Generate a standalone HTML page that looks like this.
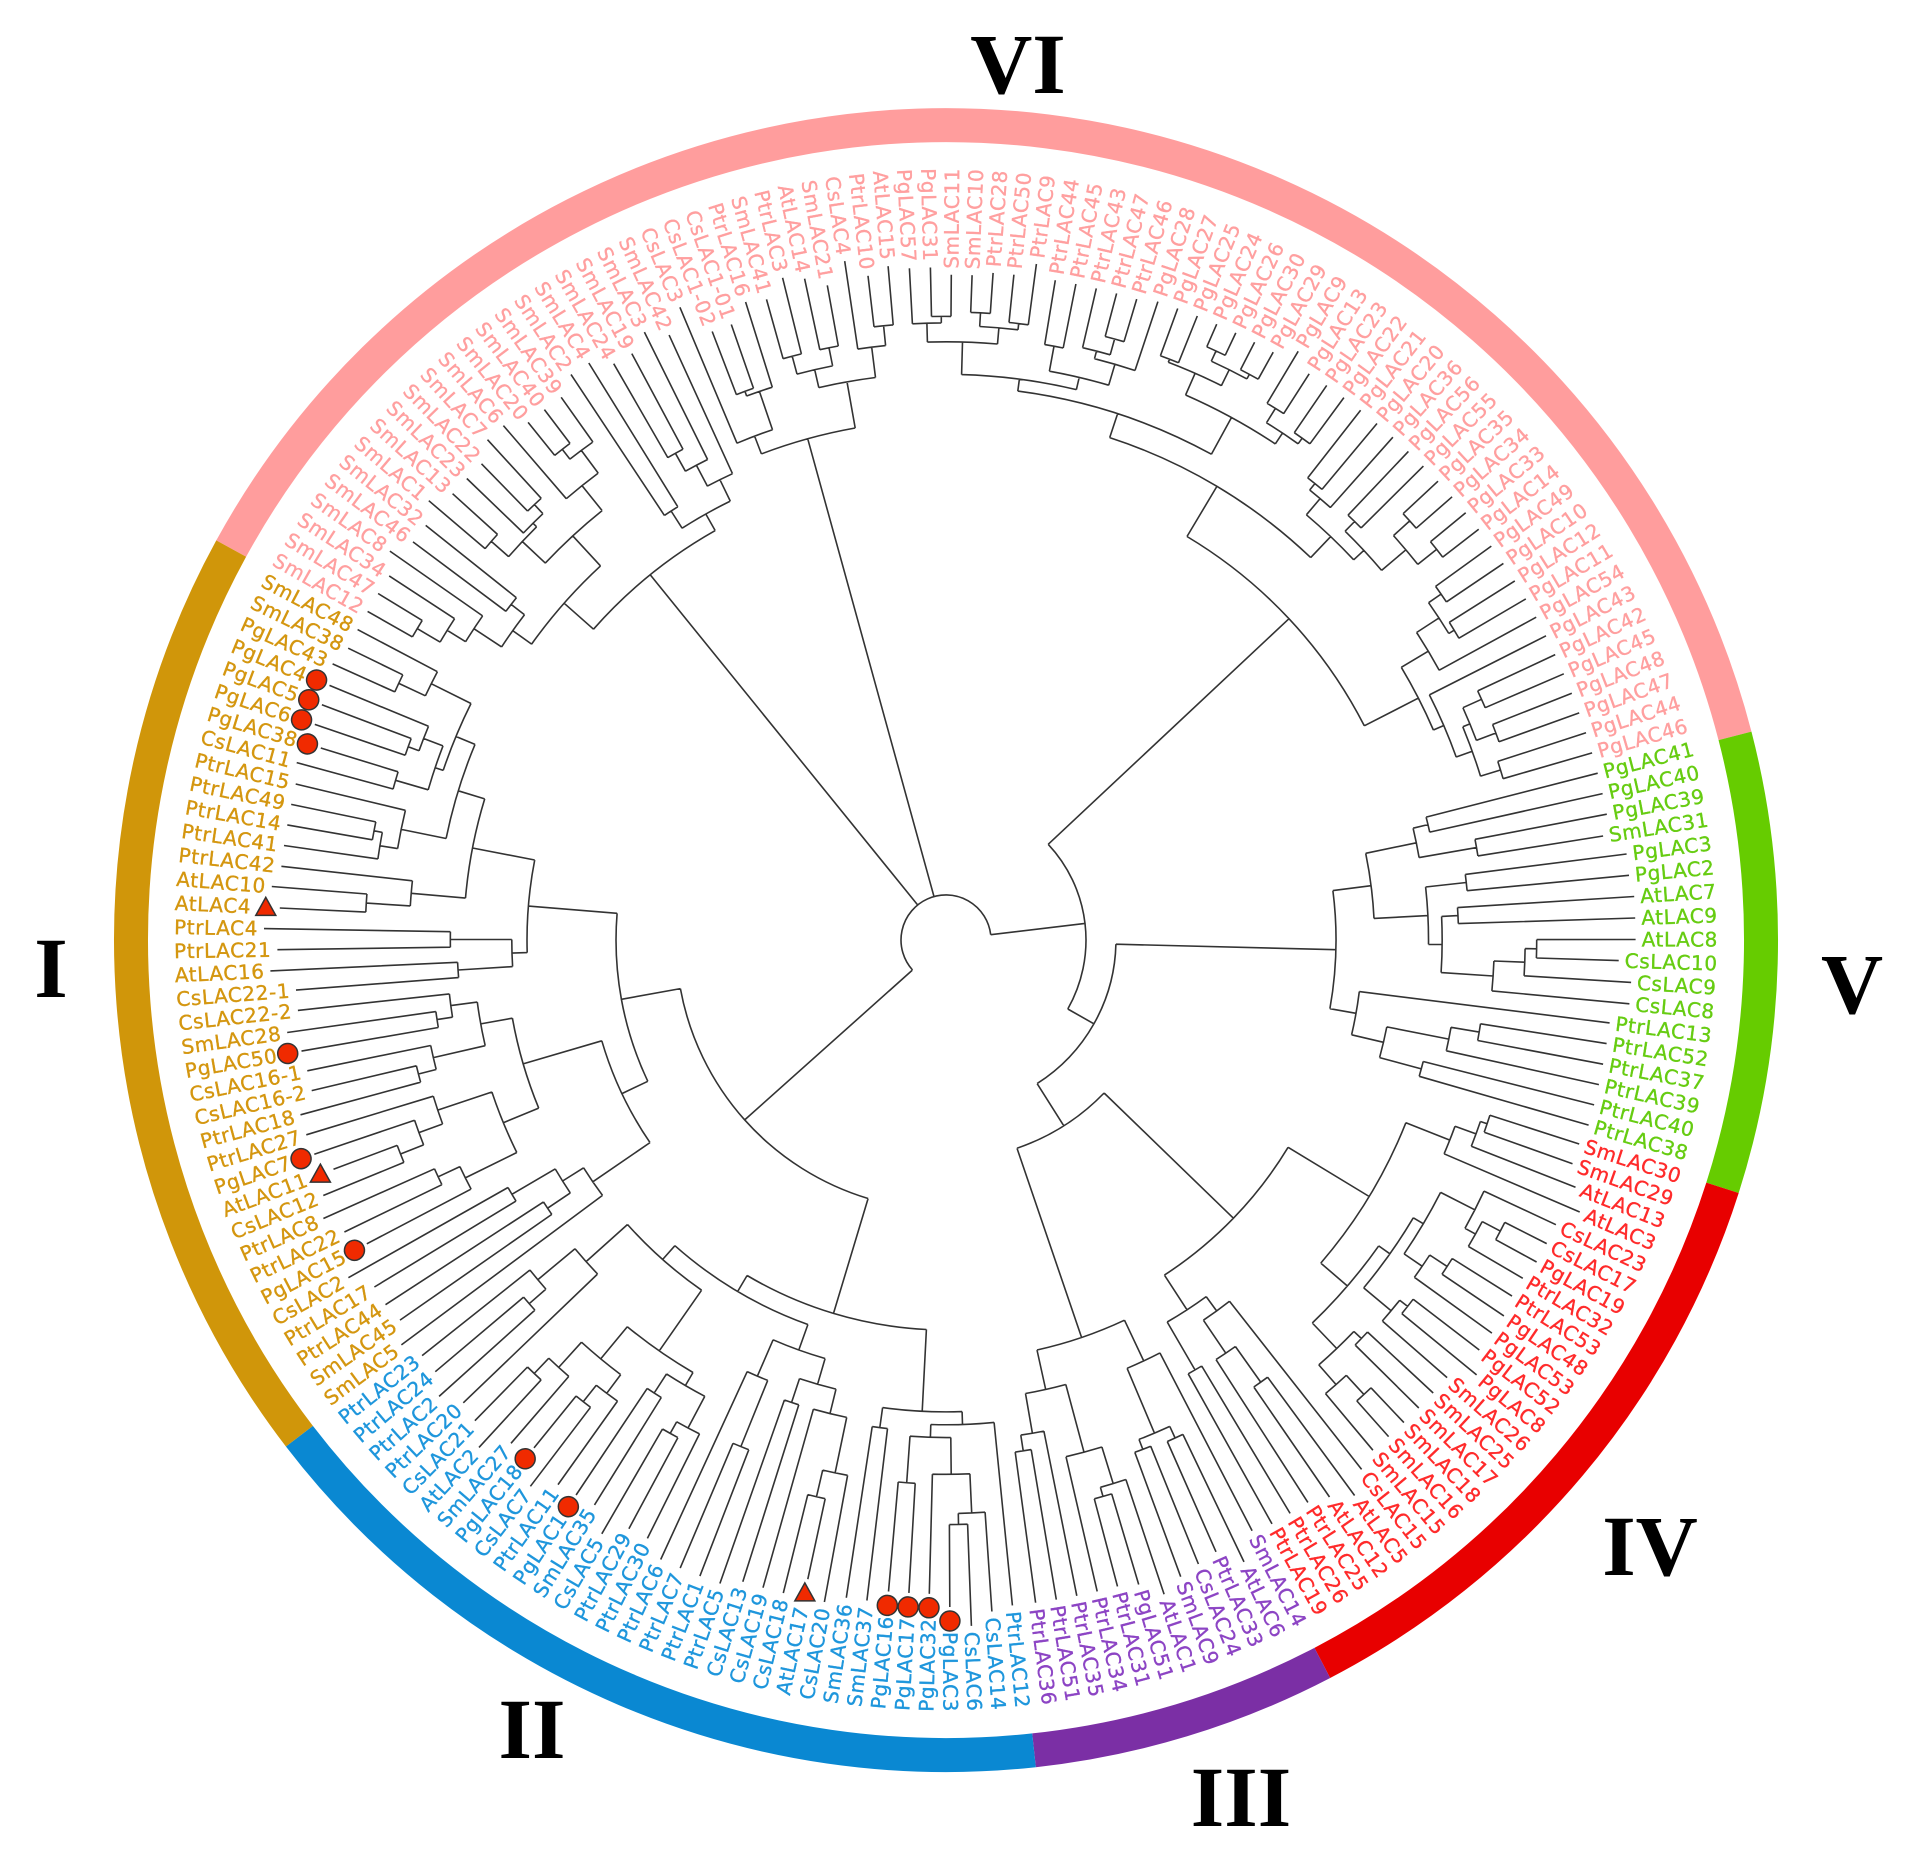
<!DOCTYPE html>
<html><head><meta charset="utf-8"><style>
html,body{margin:0;padding:0;background:#fff}
svg{display:block}
.lb{font-family:"DejaVu Sans","Liberation Sans",sans-serif;font-size:20px;letter-spacing:0.6px;dominant-baseline:central;stroke-width:0.35px}
.R{text-anchor:end}.L{text-anchor:start}
.c1{fill:#d4960f;stroke:#d4960f}.c2{fill:#1e96dc;stroke:#1e96dc}.c3{fill:#8c44c4;stroke:#8c44c4}.c4{fill:#ff2a2a;stroke:#ff2a2a}.c5{fill:#66cc11;stroke:#66cc11}.c6{fill:#ff9f9f;stroke:#ff9f9f}
.rom{font-family:"Liberation Serif",serif;font-weight:bold;font-size:86px;text-anchor:middle;fill:#000}
.mk{fill:#f02a00;stroke:#333;stroke-width:1.5}
</style></head><body>
<svg width="1907" height="1849" viewBox="0 0 1907 1849" xmlns="http://www.w3.org/2000/svg">
<g fill="none" stroke-width="34">
<path d="M231.2,548.6 A815,815 0 0 1 1735.0,735.9" stroke="#ff9d9d"/>
<path d="M1735.0,735.9 A815,815 0 0 1 1722.5,1187.8" stroke="#66cc00"/>
<path d="M1722.5,1187.8 A815,815 0 0 1 1322.3,1662.9" stroke="#e80000"/>
<path d="M1322.3,1662.9 A815,815 0 0 1 1034.0,1750.3" stroke="#7b2fa5"/>
<path d="M1034.0,1750.3 A815,815 0 0 1 299.4,1436.2" stroke="#0a88d2"/>
<path d="M299.4,1436.2 A815,815 0 0 1 231.2,548.6" stroke="#d0960a"/>
</g>
<text class="rom" x="1018" y="93">VI</text>
<text class="rom" x="51" y="997">I</text>
<text class="rom" x="1852" y="1013">V</text>
<text class="rom" x="532" y="1758">II</text>
<text class="rom" x="1241" y="1826">III</text>
<text class="rom" x="1650" y="1575">IV</text>
<g id="tree" fill="none" stroke="#333" stroke-width="1.6"></g>
<g transform="translate(946,940)">
<text class="lb R c2" transform="rotate(84.30)" x="772">PtrLAC12</text>
<text class="lb R c2" transform="rotate(86.09)" x="772">CsLAC14</text>
<text class="lb R c2" transform="rotate(87.88)" x="772">CsLAC6</text>
<text class="lb R c2" transform="rotate(89.67)" x="772">PgLAC3</text>
<text class="lb L c2" transform="rotate(91.46)rotate(180)" x="-772">PgLAC32</text>
<text class="lb L c2" transform="rotate(93.25)rotate(180)" x="-772">PgLAC17</text>
<text class="lb L c2" transform="rotate(95.04)rotate(180)" x="-772">PgLAC16</text>
<text class="lb L c2" transform="rotate(96.83)rotate(180)" x="-772">SmLAC37</text>
<text class="lb L c2" transform="rotate(98.62)rotate(180)" x="-772">SmLAC36</text>
<text class="lb L c2" transform="rotate(100.41)rotate(180)" x="-772">CsLAC20</text>
<text class="lb L c2" transform="rotate(102.20)rotate(180)" x="-772">AtLAC17</text>
<text class="lb L c2" transform="rotate(103.99)rotate(180)" x="-772">CsLAC18</text>
<text class="lb L c2" transform="rotate(105.78)rotate(180)" x="-772">CsLAC19</text>
<text class="lb L c2" transform="rotate(107.57)rotate(180)" x="-772">CsLAC13</text>
<text class="lb L c2" transform="rotate(109.36)rotate(180)" x="-772">PtrLAC5</text>
<text class="lb L c2" transform="rotate(111.15)rotate(180)" x="-772">PtrLAC1</text>
<text class="lb L c2" transform="rotate(112.94)rotate(180)" x="-772">PtrLAC7</text>
<text class="lb L c2" transform="rotate(114.73)rotate(180)" x="-772">PtrLAC6</text>
<text class="lb L c2" transform="rotate(116.52)rotate(180)" x="-772">PtrLAC30</text>
<text class="lb L c2" transform="rotate(118.31)rotate(180)" x="-772">PtrLAC29</text>
<text class="lb L c2" transform="rotate(120.10)rotate(180)" x="-772">CsLAC5</text>
<text class="lb L c2" transform="rotate(121.89)rotate(180)" x="-772">SmLAC35</text>
<text class="lb L c2" transform="rotate(123.68)rotate(180)" x="-772">PgLAC1</text>
<text class="lb L c2" transform="rotate(125.47)rotate(180)" x="-772">PtrLAC11</text>
<text class="lb L c2" transform="rotate(127.26)rotate(180)" x="-772">CsLAC7</text>
<text class="lb L c2" transform="rotate(129.05)rotate(180)" x="-772">PgLAC18</text>
<text class="lb L c2" transform="rotate(130.84)rotate(180)" x="-772">SmLAC27</text>
<text class="lb L c2" transform="rotate(132.63)rotate(180)" x="-772">AtLAC2</text>
<text class="lb L c2" transform="rotate(134.42)rotate(180)" x="-772">CsLAC21</text>
<text class="lb L c2" transform="rotate(136.21)rotate(180)" x="-772">PtrLAC20</text>
<text class="lb L c2" transform="rotate(138.00)rotate(180)" x="-772">PtrLAC2</text>
<text class="lb L c2" transform="rotate(139.79)rotate(180)" x="-772">PtrLAC24</text>
<text class="lb L c2" transform="rotate(141.58)rotate(180)" x="-772">PtrLAC23</text>
<text class="lb L c1" transform="rotate(143.37)rotate(180)" x="-772">SmLAC5</text>
<text class="lb L c1" transform="rotate(145.16)rotate(180)" x="-772">SmLAC45</text>
<text class="lb L c1" transform="rotate(146.95)rotate(180)" x="-772">PtrLAC44</text>
<text class="lb L c1" transform="rotate(148.74)rotate(180)" x="-772">PtrLAC17</text>
<text class="lb L c1" transform="rotate(150.53)rotate(180)" x="-772">CsLAC2</text>
<text class="lb L c1" transform="rotate(152.32)rotate(180)" x="-772">PgLAC15</text>
<text class="lb L c1" transform="rotate(154.11)rotate(180)" x="-772">PtrLAC22</text>
<text class="lb L c1" transform="rotate(155.90)rotate(180)" x="-772">PtrLAC8</text>
<text class="lb L c1" transform="rotate(157.69)rotate(180)" x="-772">CsLAC12</text>
<text class="lb L c1" transform="rotate(159.48)rotate(180)" x="-772">AtLAC11</text>
<text class="lb L c1" transform="rotate(161.27)rotate(180)" x="-772">PgLAC7</text>
<text class="lb L c1" transform="rotate(163.06)rotate(180)" x="-772">PtrLAC27</text>
<text class="lb L c1" transform="rotate(164.85)rotate(180)" x="-772">PtrLAC18</text>
<text class="lb L c1" transform="rotate(166.64)rotate(180)" x="-772">CsLAC16-2</text>
<text class="lb L c1" transform="rotate(168.43)rotate(180)" x="-772">CsLAC16-1</text>
<text class="lb L c1" transform="rotate(170.22)rotate(180)" x="-772">PgLAC50</text>
<text class="lb L c1" transform="rotate(172.01)rotate(180)" x="-772">SmLAC28</text>
<text class="lb L c1" transform="rotate(173.80)rotate(180)" x="-772">CsLAC22-2</text>
<text class="lb L c1" transform="rotate(175.59)rotate(180)" x="-772">CsLAC22-1</text>
<text class="lb L c1" transform="rotate(177.38)rotate(180)" x="-772">AtLAC16</text>
<text class="lb L c1" transform="rotate(179.17)rotate(180)" x="-772">PtrLAC21</text>
<text class="lb L c1" transform="rotate(180.96)rotate(180)" x="-772">PtrLAC4</text>
<text class="lb L c1" transform="rotate(182.75)rotate(180)" x="-772">AtLAC4</text>
<text class="lb L c1" transform="rotate(184.54)rotate(180)" x="-772">AtLAC10</text>
<text class="lb L c1" transform="rotate(186.33)rotate(180)" x="-772">PtrLAC42</text>
<text class="lb L c1" transform="rotate(188.12)rotate(180)" x="-772">PtrLAC41</text>
<text class="lb L c1" transform="rotate(189.91)rotate(180)" x="-772">PtrLAC14</text>
<text class="lb L c1" transform="rotate(191.70)rotate(180)" x="-772">PtrLAC49</text>
<text class="lb L c1" transform="rotate(193.49)rotate(180)" x="-772">PtrLAC15</text>
<text class="lb L c1" transform="rotate(195.28)rotate(180)" x="-772">CsLAC11</text>
<text class="lb L c1" transform="rotate(197.07)rotate(180)" x="-772">PgLAC38</text>
<text class="lb L c1" transform="rotate(198.86)rotate(180)" x="-772">PgLAC6</text>
<text class="lb L c1" transform="rotate(200.65)rotate(180)" x="-772">PgLAC5</text>
<text class="lb L c1" transform="rotate(202.44)rotate(180)" x="-772">PgLAC4</text>
<text class="lb L c1" transform="rotate(204.23)rotate(180)" x="-772">PgLAC43</text>
<text class="lb L c1" transform="rotate(206.02)rotate(180)" x="-772">SmLAC38</text>
<text class="lb L c1" transform="rotate(207.81)rotate(180)" x="-772">SmLAC48</text>
<text class="lb L c6" transform="rotate(209.60)rotate(180)" x="-772">SmLAC12</text>
<text class="lb L c6" transform="rotate(211.39)rotate(180)" x="-772">SmLAC47</text>
<text class="lb L c6" transform="rotate(213.18)rotate(180)" x="-772">SmLAC34</text>
<text class="lb L c6" transform="rotate(214.97)rotate(180)" x="-772">SmLAC8</text>
<text class="lb L c6" transform="rotate(216.76)rotate(180)" x="-772">SmLAC46</text>
<text class="lb L c6" transform="rotate(218.55)rotate(180)" x="-772">SmLAC32</text>
<text class="lb L c6" transform="rotate(220.34)rotate(180)" x="-772">SmLAC1</text>
<text class="lb L c6" transform="rotate(222.13)rotate(180)" x="-772">SmLAC13</text>
<text class="lb L c6" transform="rotate(223.92)rotate(180)" x="-772">SmLAC23</text>
<text class="lb L c6" transform="rotate(225.71)rotate(180)" x="-772">SmLAC22</text>
<text class="lb L c6" transform="rotate(227.50)rotate(180)" x="-772">SmLAC7</text>
<text class="lb L c6" transform="rotate(229.29)rotate(180)" x="-772">SmLAC6</text>
<text class="lb L c6" transform="rotate(231.08)rotate(180)" x="-772">SmLAC20</text>
<text class="lb L c6" transform="rotate(232.87)rotate(180)" x="-772">SmLAC40</text>
<text class="lb L c6" transform="rotate(234.66)rotate(180)" x="-772">SmLAC39</text>
<text class="lb L c6" transform="rotate(236.45)rotate(180)" x="-772">SmLAC2</text>
<text class="lb L c6" transform="rotate(238.24)rotate(180)" x="-772">SmLAC4</text>
<text class="lb L c6" transform="rotate(240.03)rotate(180)" x="-772">SmLAC24</text>
<text class="lb L c6" transform="rotate(241.82)rotate(180)" x="-772">SmLAC19</text>
<text class="lb L c6" transform="rotate(243.61)rotate(180)" x="-772">SmLAC3</text>
<text class="lb L c6" transform="rotate(245.40)rotate(180)" x="-772">SmLAC42</text>
<text class="lb L c6" transform="rotate(247.19)rotate(180)" x="-772">CsLAC3</text>
<text class="lb L c6" transform="rotate(248.98)rotate(180)" x="-772">CsLAC1-02</text>
<text class="lb L c6" transform="rotate(250.77)rotate(180)" x="-772">CsLAC1-01</text>
<text class="lb L c6" transform="rotate(252.56)rotate(180)" x="-772">PtrLAC16</text>
<text class="lb L c6" transform="rotate(254.35)rotate(180)" x="-772">SmLAC41</text>
<text class="lb L c6" transform="rotate(256.14)rotate(180)" x="-772">PtrLAC3</text>
<text class="lb L c6" transform="rotate(257.93)rotate(180)" x="-772">AtLAC14</text>
<text class="lb L c6" transform="rotate(259.72)rotate(180)" x="-772">SmLAC21</text>
<text class="lb L c6" transform="rotate(261.51)rotate(180)" x="-772">CsLAC4</text>
<text class="lb L c6" transform="rotate(263.30)rotate(180)" x="-772">PtrLAC10</text>
<text class="lb L c6" transform="rotate(265.09)rotate(180)" x="-772">AtLAC15</text>
<text class="lb L c6" transform="rotate(266.88)rotate(180)" x="-772">PgLAC57</text>
<text class="lb L c6" transform="rotate(268.67)rotate(180)" x="-772">PgLAC31</text>
<text class="lb R c6" transform="rotate(270.46)" x="772">SmLAC11</text>
<text class="lb R c6" transform="rotate(272.25)" x="772">SmLAC10</text>
<text class="lb R c6" transform="rotate(274.04)" x="772">PtrLAC28</text>
<text class="lb R c6" transform="rotate(275.83)" x="772">PtrLAC50</text>
<text class="lb R c6" transform="rotate(277.62)" x="772">PtrLAC9</text>
<text class="lb R c6" transform="rotate(279.41)" x="772">PtrLAC44</text>
<text class="lb R c6" transform="rotate(281.20)" x="772">PtrLAC45</text>
<text class="lb R c6" transform="rotate(282.99)" x="772">PtrLAC43</text>
<text class="lb R c6" transform="rotate(284.78)" x="772">PtrLAC47</text>
<text class="lb R c6" transform="rotate(286.57)" x="772">PtrLAC46</text>
<text class="lb R c6" transform="rotate(288.36)" x="772">PgLAC28</text>
<text class="lb R c6" transform="rotate(290.15)" x="772">PgLAC27</text>
<text class="lb R c6" transform="rotate(291.94)" x="772">PgLAC25</text>
<text class="lb R c6" transform="rotate(293.73)" x="772">PgLAC24</text>
<text class="lb R c6" transform="rotate(295.52)" x="772">PgLAC26</text>
<text class="lb R c6" transform="rotate(297.31)" x="772">PgLAC30</text>
<text class="lb R c6" transform="rotate(299.10)" x="772">PgLAC29</text>
<text class="lb R c6" transform="rotate(300.89)" x="772">PgLAC9</text>
<text class="lb R c6" transform="rotate(302.68)" x="772">PgLAC13</text>
<text class="lb R c6" transform="rotate(304.47)" x="772">PgLAC23</text>
<text class="lb R c6" transform="rotate(306.26)" x="772">PgLAC22</text>
<text class="lb R c6" transform="rotate(308.05)" x="772">PgLAC21</text>
<text class="lb R c6" transform="rotate(309.84)" x="772">PgLAC20</text>
<text class="lb R c6" transform="rotate(311.63)" x="772">PgLAC36</text>
<text class="lb R c6" transform="rotate(313.42)" x="772">PgLAC56</text>
<text class="lb R c6" transform="rotate(315.21)" x="772">PgLAC55</text>
<text class="lb R c6" transform="rotate(317.00)" x="772">PgLAC35</text>
<text class="lb R c6" transform="rotate(318.79)" x="772">PgLAC34</text>
<text class="lb R c6" transform="rotate(320.58)" x="772">PgLAC33</text>
<text class="lb R c6" transform="rotate(322.37)" x="772">PgLAC14</text>
<text class="lb R c6" transform="rotate(324.16)" x="772">PgLAC49</text>
<text class="lb R c6" transform="rotate(325.95)" x="772">PgLAC10</text>
<text class="lb R c6" transform="rotate(327.74)" x="772">PgLAC12</text>
<text class="lb R c6" transform="rotate(329.53)" x="772">PgLAC11</text>
<text class="lb R c6" transform="rotate(331.32)" x="772">PgLAC54</text>
<text class="lb R c6" transform="rotate(333.11)" x="772">PgLAC43</text>
<text class="lb R c6" transform="rotate(334.90)" x="772">PgLAC42</text>
<text class="lb R c6" transform="rotate(336.69)" x="772">PgLAC45</text>
<text class="lb R c6" transform="rotate(338.48)" x="772">PgLAC48</text>
<text class="lb R c6" transform="rotate(340.27)" x="772">PgLAC47</text>
<text class="lb R c6" transform="rotate(342.06)" x="772">PgLAC44</text>
<text class="lb R c6" transform="rotate(343.85)" x="772">PgLAC46</text>
<text class="lb R c5" transform="rotate(345.64)" x="772">PgLAC41</text>
<text class="lb R c5" transform="rotate(347.43)" x="772">PgLAC40</text>
<text class="lb R c5" transform="rotate(349.22)" x="772">PgLAC39</text>
<text class="lb R c5" transform="rotate(351.01)" x="772">SmLAC31</text>
<text class="lb R c5" transform="rotate(352.80)" x="772">PgLAC3</text>
<text class="lb R c5" transform="rotate(354.59)" x="772">PgLAC2</text>
<text class="lb R c5" transform="rotate(356.38)" x="772">AtLAC7</text>
<text class="lb R c5" transform="rotate(358.17)" x="772">AtLAC9</text>
<text class="lb R c5" transform="rotate(359.96)" x="772">AtLAC8</text>
<text class="lb R c5" transform="rotate(361.75)" x="772">CsLAC10</text>
<text class="lb R c5" transform="rotate(363.54)" x="772">CsLAC9</text>
<text class="lb R c5" transform="rotate(365.33)" x="772">CsLAC8</text>
<text class="lb R c5" transform="rotate(367.12)" x="772">PtrLAC13</text>
<text class="lb R c5" transform="rotate(368.91)" x="772">PtrLAC52</text>
<text class="lb R c5" transform="rotate(370.70)" x="772">PtrLAC37</text>
<text class="lb R c5" transform="rotate(372.49)" x="772">PtrLAC39</text>
<text class="lb R c5" transform="rotate(374.28)" x="772">PtrLAC40</text>
<text class="lb R c5" transform="rotate(376.07)" x="772">PtrLAC38</text>
<text class="lb R c4" transform="rotate(377.86)" x="772">SmLAC30</text>
<text class="lb R c4" transform="rotate(379.65)" x="772">SmLAC29</text>
<text class="lb R c4" transform="rotate(381.44)" x="772">AtLAC13</text>
<text class="lb R c4" transform="rotate(383.23)" x="772">AtLAC3</text>
<text class="lb R c4" transform="rotate(385.02)" x="772">CsLAC23</text>
<text class="lb R c4" transform="rotate(386.81)" x="772">CsLAC17</text>
<text class="lb R c4" transform="rotate(388.60)" x="772">PgLAC19</text>
<text class="lb R c4" transform="rotate(390.39)" x="772">PtrLAC32</text>
<text class="lb R c4" transform="rotate(392.18)" x="772">PtrLAC53</text>
<text class="lb R c4" transform="rotate(393.97)" x="772">PgLAC48</text>
<text class="lb R c4" transform="rotate(395.76)" x="772">PgLAC53</text>
<text class="lb R c4" transform="rotate(397.55)" x="772">PgLAC52</text>
<text class="lb R c4" transform="rotate(399.34)" x="772">PgLAC8</text>
<text class="lb R c4" transform="rotate(401.13)" x="772">SmLAC26</text>
<text class="lb R c4" transform="rotate(402.92)" x="772">SmLAC25</text>
<text class="lb R c4" transform="rotate(404.71)" x="772">SmLAC17</text>
<text class="lb R c4" transform="rotate(406.50)" x="772">SmLAC18</text>
<text class="lb R c4" transform="rotate(408.29)" x="772">SmLAC16</text>
<text class="lb R c4" transform="rotate(410.08)" x="772">SmLAC15</text>
<text class="lb R c4" transform="rotate(411.87)" x="772">CsLAC15</text>
<text class="lb R c4" transform="rotate(413.66)" x="772">AtLAC5</text>
<text class="lb R c4" transform="rotate(415.45)" x="772">AtLAC12</text>
<text class="lb R c4" transform="rotate(417.24)" x="772">PtrLAC25</text>
<text class="lb R c4" transform="rotate(419.03)" x="772">PtrLAC26</text>
<text class="lb R c4" transform="rotate(420.82)" x="772">PtrLAC19</text>
<text class="lb R c3" transform="rotate(422.61)" x="772">SmLAC14</text>
<text class="lb R c3" transform="rotate(424.40)" x="772">AtLAC6</text>
<text class="lb R c3" transform="rotate(426.19)" x="772">PtrLAC33</text>
<text class="lb R c3" transform="rotate(427.98)" x="772">CsLAC24</text>
<text class="lb R c3" transform="rotate(429.77)" x="772">SmLAC9</text>
<text class="lb R c3" transform="rotate(431.56)" x="772">AtLAC1</text>
<text class="lb R c3" transform="rotate(433.34)" x="772">PgLAC51</text>
<text class="lb R c3" transform="rotate(435.14)" x="772">PtrLAC31</text>
<text class="lb R c3" transform="rotate(436.93)" x="772">PtrLAC34</text>
<text class="lb R c3" transform="rotate(438.72)" x="772">PtrLAC35</text>
<text class="lb R c3" transform="rotate(440.51)" x="772">PtrLAC51</text>
<text class="lb R c3" transform="rotate(442.30)" x="772">PtrLAC36</text>
<circle class="mk" transform="rotate(89.67)" cx="681" cy="0" r="10"/>
<circle class="mk" transform="rotate(91.46)" cx="668" cy="0" r="10"/>
<circle class="mk" transform="rotate(93.25)" cx="668" cy="0" r="10"/>
<circle class="mk" transform="rotate(95.04)" cx="668" cy="0" r="10"/>
<polygon class="mk" transform="rotate(102.20) translate(668,0) rotate(-102.20)" points="0,-10 10,8 -10,8"/>
<circle class="mk" transform="rotate(123.68)" cx="681" cy="0" r="10"/>
<circle class="mk" transform="rotate(129.05)" cx="668" cy="0" r="10"/>
<circle class="mk" transform="rotate(152.32)" cx="668" cy="0" r="10"/>
<polygon class="mk" transform="rotate(159.48) translate(668,0) rotate(-159.48)" points="0,-10 10,8 -10,8"/>
<circle class="mk" transform="rotate(161.27)" cx="681" cy="0" r="10"/>
<circle class="mk" transform="rotate(170.22)" cx="668" cy="0" r="10"/>
<polygon class="mk" transform="rotate(182.75) translate(681,0) rotate(-182.75)" points="0,-10 10,8 -10,8"/>
<circle class="mk" transform="rotate(197.07)" cx="668" cy="0" r="10"/>
<circle class="mk" transform="rotate(198.86)" cx="681" cy="0" r="10"/>
<circle class="mk" transform="rotate(200.65)" cx="681" cy="0" r="10"/>
<circle class="mk" transform="rotate(202.44)" cx="681" cy="0" r="10"/>
</g>
</svg>
<script>
(function(){
var cx=946,cy=940;
var g=document.getElementById('tree');
var lbs=document.querySelectorAll('text.lb');
var N=lbs.length,tip=[];
var mk={3:681,4:668,5:668,6:668,10:668,22:681,25:668,38:668,42:668,43:681,48:668,55:681,63:668,64:681,65:681,66:681};
for(var j=0;j<N;j++){var L=0;try{L=lbs[j].getComputedTextLength();}catch(e){}if(!L)L=85;tip[j]=mk[j]?mk[j]-14:772-L-6;}
function ang(j){return 84.3+1.79*j;}
var seed=12345;function rnd(){seed=(seed*16807)%2147483647;return seed/2147483647;}
function P(r,a){a*=Math.PI/180;return (cx+r*Math.cos(a)).toFixed(1)+','+(cy+r*Math.sin(a)).toFixed(1);}
function minTip(lo,hi){var m=1e9;for(var i=lo;i<=hi;i++)if(tip[i]<m)m=tip[i];return m;}
function B(lo,hi,r){
 if(lo==hi)return {a:ang(lo),r:tip[lo]};
 var n=hi-lo+1;var m=Math.round(n*(0.2+0.6*rnd()));if(m<1)m=1;if(m>n-1)m=n-1;
 var k=lo+m-1;var kids=[];
 var rs=[[lo,k],[k+1,hi]];
 for(var q=0;q<2;q++){var a=rs[q][0],b=rs[q][1];
  if(a==b){kids.push({a:ang(a),r:tip[a]});}
  else{var mt=minTip(a,b);var cr=r+(mt-r)*(0.06+0.3*rnd());if(cr>mt-10)cr=mt-10;if(cr<r+3)cr=r+3;kids.push(B(a,b,cr));}
 }
 return {a:(kids[0].a+kids[1].a)/2,r:r,kids:kids};
}
function Nd(r,kids){return {a:(kids[0].a+kids[kids.length-1].a)/2,r:r,kids:kids};}
var root=Nd(45,[
 Nd(270,[B(0,32,390),B(33,69,330)]),
 B(70,90,470),
 B(91,101,520),
 Nd(140,[B(102,145,470),Nd(170,[B(146,163,390),Nd(220,[B(164,188,400),B(189,200,420)])])])
]);
var d='';
function draw(n){
 if(!n.kids)return;
 var a1=n.kids[0].a,a2=n.kids[n.kids.length-1].a;
 if(a2-a1>0.05){d+='M'+P(n.r,a1)+'A'+n.r+','+n.r+' 0 '+((a2-a1)>180?1:0)+' 1 '+P(n.r,a2);}
 for(var i=0;i<n.kids.length;i++){var c=n.kids[i];d+='M'+P(n.r,c.a)+'L'+P(c.r,c.a);draw(c);}
}
draw(root);
var p=document.createElementNS('http://www.w3.org/2000/svg','path');
p.setAttribute('d',d);g.appendChild(p);
})();
</script>
</body></html>
